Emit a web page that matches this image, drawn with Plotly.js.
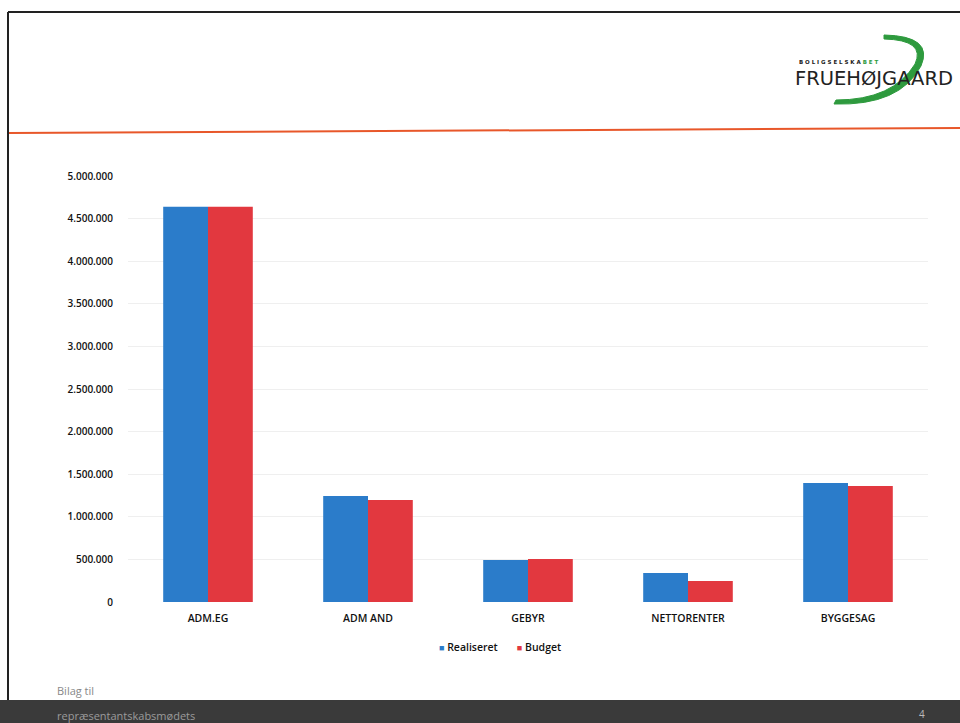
<!DOCTYPE html>
<html>
<head>
<meta charset="utf-8">
<script src="https://cdn.plot.ly/plotly-3.0.1.min.js"></script>
<style>
html,body{margin:0;padding:0;background:#fff;}
#chart{width:960px;height:723px;}
</style>
</head>
<body>
<div id="chart"></div>
<script>
const categories = ["ADM.EG", "ADM AND", "GEBYR", "NETTORENTER", "BYGGESAG"];
const realiseret = [4640000, 1245000, 493000, 340000, 1397000];
const budget = [4640000, 1197000, 505000, 246000, 1362000];
const yTickVals = [0, 500000, 1000000, 1500000, 2000000, 2500000, 3000000, 3500000, 4000000, 4500000, 5000000];
const yTickText = ["0", "500.000", "1.000.000", "1.500.000", "2.000.000", "2.500.000", "3.000.000", "3.500.000", "4.000.000", "4.500.000", "5.000.000"];
const seriesNames = ["Realiseret", "Budget"];
const seriesColors = ["#2b7cca", "#e2383f"];

// pixel -> paper helpers (plot area: x 128..928, y 176..602)
const L = 128, R = 928, T = 176, B = 602;
const px = x => (x - L) / (R - L);
const py = y => (B - y) / (B - T);

const font = "Open Sans, Lato, sans-serif";

const traces = seriesNames.map((n, i) => ({
  type: "bar", x: categories, y: i === 0 ? realiseret : budget, name: n,
  marker: {color: seriesColors[i]}, showlegend: false
}));

// green swoosh path in paper coords
function P(x, y) { return px(x).toFixed(4) + "," + py(y).toFixed(4); }
const swoosh = "M" + P(884, 35) + " Q" + P(934, 36) + " " + P(921, 66) +
  " Q" + P(900, 106) + " " + P(834, 104) +
  " L" + P(836, 100) + " Q" + P(893, 100) + " " + P(915, 64) +
  " Q" + P(926, 40) + " " + P(884, 39) + " Z";

const legendText = seriesNames.map((n, i) =>
  "<span style='color:" + seriesColors[i] + "; font-size:9px'>■</span> " + n).join("       ");

const layout = {
  width: 960, height: 723,
  margin: {l: L, r: 960 - R, t: T, b: 723 - B, pad: 0},
  paper_bgcolor: "#ffffff",
  plot_bgcolor: "#ffffff",
  barmode: "group",
  bargap: 0.44,
  bargroupgap: 0,
  showlegend: false,
  font: {family: font, color: "#222"},
  xaxis: {
    type: "category", showgrid: false, zeroline: false, showline: false, ticks: "",
    tickfont: {family: font, size: 10.5, color: "#111", weight: 600}, ticklabelstandoff: 8
  },
  yaxis: {
    range: [0, 5000000], tickvals: yTickVals, ticktext: yTickText,
    showgrid: true, gridcolor: "#efefef", gridwidth: 1, zeroline: false, showline: false,
    tickfont: {family: font, size: 10, color: "#111", weight: 600}, ticks: "", ticklabelstandoff: 14
  },
  shapes: [
    {type: "line", xref: "paper", yref: "paper", x0: px(8), x1: px(962), y0: py(12), y1: py(12), line: {color: "#222", width: 2}},
    {type: "line", xref: "paper", yref: "paper", x0: px(8), x1: px(8), y0: py(12), y1: py(700), line: {color: "#222", width: 2}},
    {type: "line", xref: "paper", yref: "paper", x0: px(9), x1: px(962), y0: py(133), y1: py(128), line: {color: "#e8572a", width: 2}},
    {type: "rect", xref: "paper", yref: "paper", x0: px(0), x1: px(962), y0: py(700), y1: py(725), fillcolor: "#3a3a3a", line: {width: 0}, layer: "above"},
    {type: "path", xref: "paper", yref: "paper", path: swoosh, fillcolor: "#2e9a3e", line: {color: "#2e9a3e", width: 1}}
  ],
  annotations: [
    {xref: "paper", yref: "paper", x: px(500), y: py(647), xanchor: "center", yanchor: "middle", showarrow: false,
      text: legendText, font: {family: font, size: 10.5, color: "#111", weight: 600}},
    {xref: "paper", yref: "paper", x: px(797), y: py(62), xanchor: "left", yanchor: "middle", showarrow: false,
      text: "<b>B O L I G S E L S K A <span style='color:#2e9a3e'>B E T</span></b>", font: {family: "DejaVu Sans, sans-serif", size: 5.5, color: "#222"}},
    {xref: "paper", yref: "paper", x: px(955), y: py(79), xanchor: "right", yanchor: "middle", showarrow: false,
      text: "FRUEHØJGAARD", font: {family: "DejaVu Sans, sans-serif", size: 19.5, stretch: "condensed", weight: 500, color: "#222"}},
    {xref: "paper", yref: "paper", x: px(55), y: py(690), xanchor: "left", yanchor: "middle", showarrow: false,
      text: "Bilag til", font: {family: font, size: 11, color: "#888"}},
    {xref: "paper", yref: "paper", x: px(55), y: py(715), xanchor: "left", yanchor: "middle", showarrow: false,
      text: "repræsentantskabsmødets", font: {family: font, size: 11, color: "#9a9a9a"}},
    {xref: "paper", yref: "paper", x: px(922), y: py(714), xanchor: "center", yanchor: "middle", showarrow: false,
      text: "4", font: {family: font, size: 10, color: "#bbb"}}
  ]
};

Plotly.newPlot("chart", traces, layout, {displayModeBar: false, staticPlot: true});
</script>
</body>
</html>
